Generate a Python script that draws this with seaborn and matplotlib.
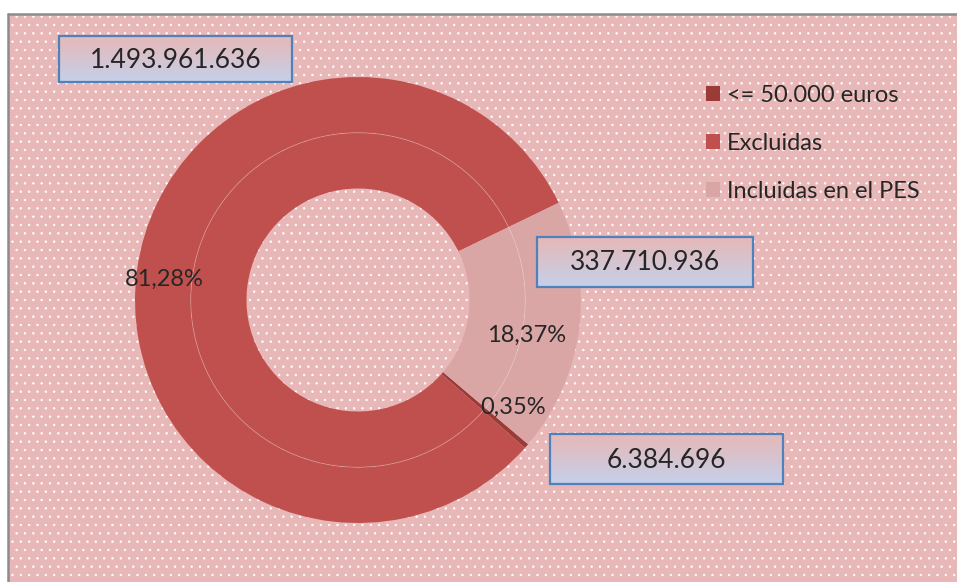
import numpy as np
import matplotlib.pyplot as plt
import matplotlib.colors as mcolors
from matplotlib.patches import Rectangle, Circle
import seaborn as sns

# datos
etiquetas = ['<= 50.000 euros', 'Excluidas', 'Incluidas en el PES']
importes = [6384696, 1493961636, 337710936]
porcentajes = ['0,35%', '81,28%', '18,37%']
importes_txt = ['6.384.696', '1.493.961.636', '337.710.936']
colores = ['#9B3B38', '#C0504D', '#DAA5A5']

sns.set_style('white')
plt.rcParams['font.family'] = ['Lato', 'DejaVu Sans']
plt.rcParams['hatch.linewidth'] = 0.5

W, H = 957, 582
fig = plt.figure(figsize=(W / 100, H / 100), dpi=100)
fig.patch.set_facecolor('white')

# fondo rosa con trama de puntos
bg = fig.add_axes([0, 0, 1, 1])
bg.axis('off')
x0, y0 = 8, 14
bg.add_patch(Rectangle((x0, y0), W - x0, H - y0, facecolor='#E7B8B7', edgecolor='white',
                       hatch='..', lw=0, zorder=0))
bg.plot([x0, x0], [H, y0], color='#8C8C8C', lw=1.8, zorder=2)
bg.plot([x0, W], [y0, y0], color='#8C8C8C', lw=1.8, zorder=2)
bg.set_xlim(0, W)
bg.set_ylim(H, 0)

# anillos
cx, cy, R = 358, 300, 223
ax = fig.add_axes([(cx - R) / W, (H - cy - R) / H, 2 * R / W, 2 * R / H])
ax.set_facecolor('none')
fuera, _ = ax.pie(importes, radius=1, colors=colores, startangle=-40.3,
                  counterclock=False, wedgeprops=dict(width=0.25, edgecolor='none'))
ax.pie(importes, radius=0.75, colors=colores, startangle=-40.3,
       counterclock=False, wedgeprops=dict(width=0.25, edgecolor='none'))
ax.add_patch(Circle((0, 0), 0.75, fill=False, ec=(1, 1, 1, 0.3), lw=0.6))
ax.set_xlim(-1, 1)
ax.set_ylim(-1, 1)
ax.axis('off')

# capa de rotulos
ov = fig.add_axes([0, 0, 1, 1])
ov.set_facecolor('none')
ov.axis('off')

grad = np.linspace(mcolors.to_rgb('#E6B8B7'), mcolors.to_rgb('#C5D0EA'), 64)[:, None, :]
cajas = [(550, 434, 783, 484), (59, 36, 292, 82), (537, 237, 753, 287)]
for (a, b, c, d), txt in zip(cajas, importes_txt):
    ov.imshow(grad, extent=(a, c, d, b), aspect='auto', zorder=2)
    ov.add_patch(Rectangle((a, b), c - a, d - b, fill=False, ec='#4F81BD', lw=1.6, zorder=3))
    ov.text((a + c) / 2, (b + d) / 2 + 1, txt, ha='center', va='center', fontsize=19, zorder=4)

pos_pct = [(513, 407), (164, 279), (527, 335)]
for (px, py), txt in zip(pos_pct, porcentajes):
    ov.text(px, py, txt, ha='center', va='center', fontsize=17)

ov.legend(fuera, etiquetas, loc='upper left', bbox_to_anchor=(706, 85),
          bbox_transform=ov.transData, frameon=False, fontsize=17,
          handlelength=0.6, handleheight=0.6, handletextpad=0.3,
          labelspacing=1.14, borderpad=0, borderaxespad=0)
ov.set_xlim(0, W)
ov.set_ylim(H, 0)

fig.savefig('out.png', dpi=100)
